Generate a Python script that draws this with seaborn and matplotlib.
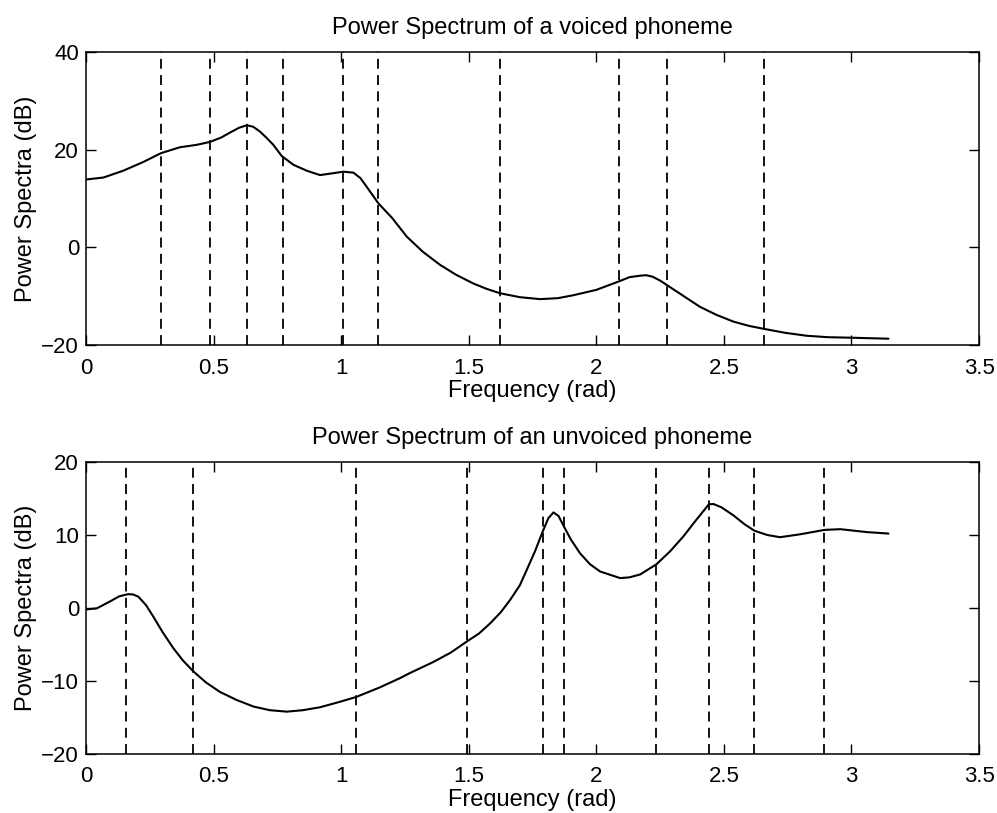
import numpy as np
import pandas as pd
import matplotlib
matplotlib.use("Agg")
import matplotlib.pyplot as plt
import matplotlib.ticker as mticker
import seaborn as sns

# ---------------- data ----------------
voiced_freq = [0.000, 0.068, 0.146, 0.225, 0.294, 0.368, 0.434, 0.486, 0.530, 0.564,
               0.600, 0.630, 0.655, 0.682, 0.708, 0.734, 0.767, 0.813, 0.865, 0.917,
               0.970, 1.009, 1.048, 1.075, 1.100, 1.146, 1.200, 1.257, 1.320, 1.388,
               1.450, 1.518, 1.570, 1.623, 1.700, 1.780, 1.850, 1.910, 2.000, 2.087,
               2.130, 2.172, 2.195, 2.220, 2.250, 2.276, 2.340, 2.407, 2.470, 2.537,
               2.600, 2.658, 2.740, 2.825, 2.910, 3.001, 3.070, 3.145]
voiced_db = [13.9, 14.3, 15.7, 17.5, 19.3, 20.5, 21.0, 21.6, 22.5, 23.5,
             24.5, 25.0, 24.7, 23.7, 22.4, 21.0, 18.7, 16.9, 15.7, 14.8,
             15.2, 15.5, 15.3, 14.2, 12.4, 9.0, 6.0, 2.2, -0.9, -3.6,
             -5.6, -7.4, -8.5, -9.4, -10.2, -10.6, -10.4, -9.8, -8.7, -7.0,
             -6.1, -5.8, -5.7, -6.0, -6.8, -7.7, -9.9, -12.2, -13.8, -15.2,
             -16.1, -16.7, -17.5, -18.1, -18.4, -18.5, -18.6, -18.7]
voiced_lines = [0.294, 0.487, 0.630, 0.770, 1.007, 1.143, 1.624, 2.087, 2.277, 2.658]

unvoiced_freq = [0.000, 0.042, 0.094, 0.130, 0.165, 0.185, 0.205, 0.235, 0.264, 0.300,
                 0.342, 0.380, 0.421, 0.470, 0.525, 0.590, 0.656, 0.720, 0.787, 0.850,
                 0.917, 0.990, 1.058, 1.150, 1.231, 1.270, 1.361, 1.430, 1.492, 1.540,
                 1.584, 1.625, 1.662, 1.700, 1.727, 1.760, 1.790, 1.812, 1.832, 1.852,
                 1.874, 1.900, 1.936, 1.975, 2.015, 2.093, 2.130, 2.172, 2.236, 2.290,
                 2.341, 2.390, 2.441, 2.459, 2.490, 2.537, 2.580, 2.619, 2.670, 2.720,
                 2.799, 2.894, 2.956, 3.060, 3.145]
unvoiced_db = [-0.2, -0.05, 0.9, 1.6, 1.9, 1.85, 1.55, 0.4, -1.2, -3.3,
               -5.5, -7.2, -8.7, -10.2, -11.5, -12.6, -13.5, -14.0, -14.2, -14.0,
               -13.6, -12.9, -12.2, -10.9, -9.6, -8.9, -7.4, -6.1, -4.6, -3.5,
               -2.1, -0.6, 1.1, 3.1, 5.2, 7.8, 10.5, 12.3, 13.1, 12.6,
               11.1, 9.4, 7.5, 6.0, 5.0, 4.1, 4.2, 4.6, 6.0, 7.8,
               9.8, 12.0, 14.2, 14.25, 13.8, 12.7, 11.5, 10.6, 10.0, 9.7,
               10.1, 10.7, 10.8, 10.4, 10.2]
unvoiced_lines = [0.155, 0.421, 1.058, 1.493, 1.792, 1.874, 2.235, 2.441, 2.619, 2.894]

x_ticks = [0, 0.5, 1, 1.5, 2, 2.5, 3, 3.5]
voiced_yticks = [-20, 0, 20, 40]
unvoiced_yticks = [-20, -10, 0, 10, 20]

titles = ["Power Spectrum of a voiced phoneme", "Power Spectrum of an unvoiced phoneme"]
xlabel = "Frequency (rad)"
ylabel = "Power Spectra (dB)"

# ---------------- style ----------------
sns.set_theme(style="white")
plt.rcParams["font.family"] = ["Liberation Sans", "DejaVu Sans"]
plt.rcParams["axes.unicode_minus"] = True

fig = plt.figure(figsize=(9.97, 8.13), dpi=100)
ax1 = fig.add_axes([0.0863, 0.5756, 0.8957, 0.3604])
ax2 = fig.add_axes([0.0863, 0.0726, 0.8957, 0.3591])

def fmt(v, pos):
    return f"{v:g}".replace("-", "\u2212")

panels = [
    (ax1, voiced_freq, voiced_db, voiced_lines, voiced_yticks, (-20, 40), titles[0]),
    (ax2, unvoiced_freq, unvoiced_db, unvoiced_lines, unvoiced_yticks, (-20, 20), titles[1]),
]

for ax, fr, db, lines, yt, ylim, title in panels:
    df = pd.DataFrame({"freq": fr, "db": db})
    sns.lineplot(data=df, x="freq", y="db", ax=ax, color="black", linewidth=1.5,
                 estimator=None, sort=False)
    for xv in lines:
        ax.axvline(xv, color="black", linewidth=1.3, linestyle=(0, (5.5, 3.5)))
    ax.set_xlim(0, 3.5)
    ax.set_ylim(*ylim)
    ax.xaxis.set_major_locator(mticker.FixedLocator(x_ticks))
    ax.yaxis.set_major_locator(mticker.FixedLocator(yt))
    ax.xaxis.set_major_formatter(mticker.FuncFormatter(fmt))
    ax.yaxis.set_major_formatter(mticker.FuncFormatter(fmt))
    ax.tick_params(direction="in", length=7, width=1.0, colors="black",
                   top=True, right=True, bottom=True, left=True, labelsize=16)
    ax.tick_params(axis="x", pad=9)
    ax.tick_params(axis="y", pad=5)
    for sp in ax.spines.values():
        sp.set_color("black")
        sp.set_linewidth(1.1)
        sp.set_visible(True)
    ax.set_title(title, fontsize=17, pad=13, color="black")
    ax.set_xlabel(xlabel, fontsize=17, labelpad=1, color="black")
    ax.set_ylabel(ylabel, fontsize=17, labelpad=3, color="black")
    ax.set_facecolor("white")

fig.patch.set_facecolor("white")
fig.savefig("out.png", dpi=100, facecolor="white")
